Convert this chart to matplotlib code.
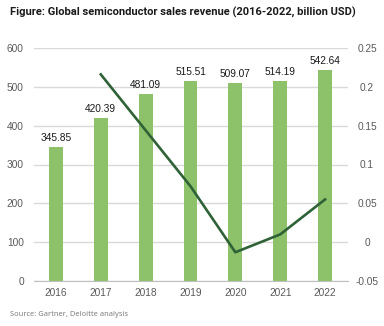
import matplotlib
matplotlib.use("Agg")
import matplotlib.pyplot as plt

years = ["2016", "2017", "2018", "2019", "2020", "2021", "2022"]
revenue = [345.85, 420.39, 481.09, 515.51, 509.07, 514.19, 542.64]
growth_years = ["2017", "2018", "2019", "2020", "2021", "2022"]
growth = [0.216, 0.144, 0.072, -0.013, 0.010, 0.055]
left_ticks = [0, 100, 200, 300, 400, 500, 600]
right_ticks = [-0.05, 0, 0.05, 0.1, 0.15, 0.2, 0.25]
right_labels = ["-0.05", "0", "0.05", "0.1", "0.15", "0.2", "0.25"]

fig = plt.figure(figsize=(3.84, 3.26), dpi=100)
ax = fig.add_axes([33.5/384, 1-281/326, (347.5-33.5)/384, (281-48)/326])
x = list(range(len(years)))
bars = ax.bar(x, revenue, width=0.31, color="#8dc26b", zorder=2)
for xi, v in zip(x, revenue):
    ax.annotate(f"{v:.2f}", (xi, v), xytext=(0, 3), textcoords="offset points",
                ha="center", va="bottom", fontsize=7.3, color="#1a1a1a",
                family="Liberation Sans")
ax.set_ylim(0, 600)
ax.set_xlim(-0.5, len(years) - 0.5)
ax.set_yticks(left_ticks)
ax.set_xticks(x)
ax.set_xticklabels(years)
ax.grid(axis="y", color="#d9d9d9", linewidth=1, zorder=0)
ax.set_axisbelow(True)
for s in ["left", "right", "top"]:
    ax.spines[s].set_visible(False)
ax.spines["bottom"].set_color("#bfbfbf")
ax.tick_params(axis="both", length=0, labelsize=7.3, labelcolor="#595959")
ax.tick_params(axis="y", pad=7)
ax.tick_params(axis="x", pad=5)
for lbl in ax.get_xticklabels() + ax.get_yticklabels():
    lbl.set_family("Liberation Sans")

ax2 = ax.twinx()
gx = [years.index(y) for y in growth_years]
ax2.plot(gx, growth, color="#2f6236", linewidth=1.9, zorder=3)
ax2.set_ylim(-0.05, 0.25)
ax2.set_yticks(right_ticks)
ax2.set_yticklabels(right_labels)
for s in ["left", "right", "top", "bottom"]:
    ax2.spines[s].set_visible(False)
ax2.tick_params(axis="y", length=0, labelsize=7.3, labelcolor="#595959", pad=14)
for lbl in ax2.get_yticklabels():
    lbl.set_family("Liberation Sans")
    lbl.set_horizontalalignment("center")

fig.text(10/384, 1-12/326, "Figure: Global semiconductor sales revenue (2016-2022, billion USD)",
         fontsize=8.0, fontweight="bold", family="Roboto",
         color="#1a1a1a", ha="left", va="center")
fig.text(10/384, 1-314/326, "Source: Gartner, Deloitte analysis",
         fontsize=5.4, family="Noto Sans", color="#7f7f7f",
         ha="left", va="center")

fig.savefig("out.png", dpi=100)
